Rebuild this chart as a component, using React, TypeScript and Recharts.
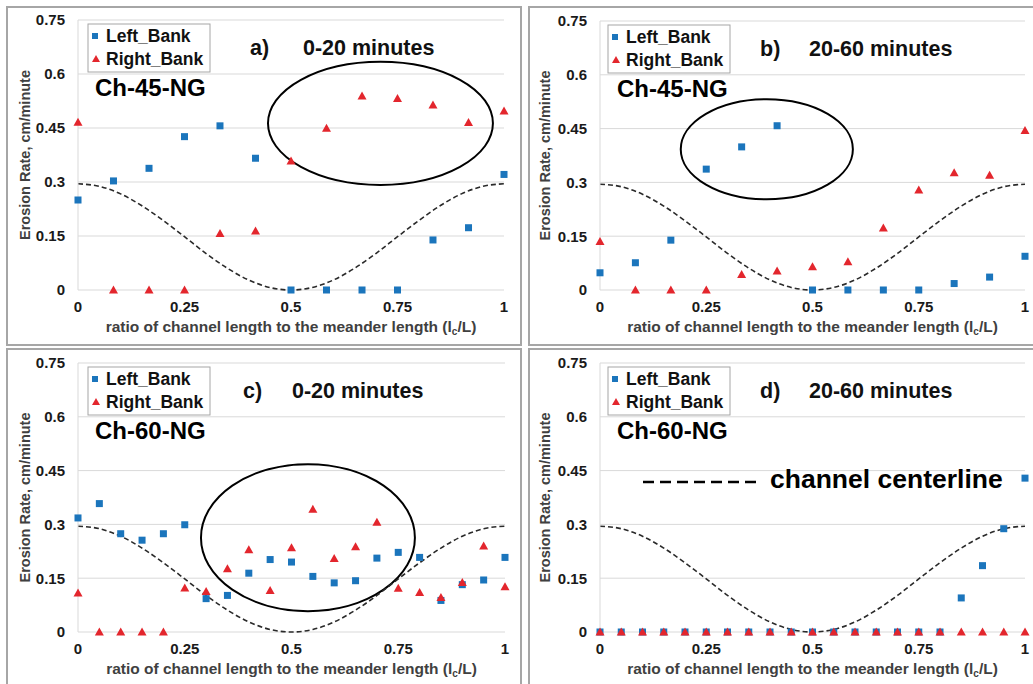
import { ComposedChart, Scatter, Line, XAxis, YAxis, CartesianGrid, ReferenceArea } from 'recharts'

// x positions: 13 stations (1/12 steps) for Ch-45, 21 stations (0.05 steps) for Ch-60
const X_13 = [0, 0.0833, 0.1667, 0.25, 0.3333, 0.4167, 0.5, 0.5833, 0.6667, 0.75, 0.8333, 0.9167, 1]
const X_21 = [0, 0.05, 0.1, 0.15, 0.2, 0.25, 0.3, 0.35, 0.4, 0.45, 0.5, 0.55, 0.6, 0.65, 0.7, 0.75, 0.8, 0.85, 0.9, 0.95, 1]

// a) Ch-45-NG, 0-20 minutes
const A_LEFT = [0.25, 0.303, 0.338, 0.426, 0.456, 0.366, 0, 0, 0, 0, 0.139, 0.173, 0.321]
const A_RIGHT = [0.466, 0, 0, 0, 0.157, 0.164, 0.358, 0.449, 0.539, 0.532, 0.514, 0.465, 0.497]

// b) Ch-45-NG, 20-60 minutes
const B_LEFT = [0.048, 0.076, 0.139, 0.337, 0.399, 0.458, 0, 0, 0, 0, 0.018, 0.036, 0.094]
const B_RIGHT = [0.135, 0, 0, 0, 0.043, 0.053, 0.065, 0.079, 0.173, 0.279, 0.327, 0.32, 0.445]

// c) Ch-60-NG, 0-20 minutes
const C_LEFT = [0.318, 0.358, 0.274, 0.256, 0.274, 0.299, 0.093, 0.102, 0.164, 0.202, 0.195, 0.155, 0.137, 0.143, 0.206, 0.222, 0.208, 0.088, 0.132, 0.145, 0.208]
const C_RIGHT = [0.109, 0, 0, 0, 0, 0.123, 0.113, 0.176, 0.229, 0.116, 0.235, 0.342, 0.205, 0.238, 0.306, 0.122, 0.11, 0.096, 0.138, 0.24, 0.126]

// d) Ch-60-NG, 20-60 minutes
const D_LEFT = [0, 0, 0, 0, 0, 0, 0, 0, 0, 0, 0, 0, 0, 0, 0, 0, 0, 0.095, 0.185, 0.288, 0.429]
const D_RIGHT = [0, 0, 0, 0, 0, 0, 0, 0, 0, 0, 0, 0, 0, 0, 0, 0, 0, 0, 0, 0, 0]

// channel centerline (dashed), read at 0.05 steps
const CENTER_Y = [0.295, 0.288, 0.267, 0.234, 0.193, 0.148, 0.102, 0.061, 0.028, 0.007, 0, 0.007, 0.028, 0.061, 0.102, 0.148, 0.193, 0.234, 0.267, 0.288, 0.295]

const X_TICKS = [0, 0.25, 0.5, 0.75, 1]
const Y_TICKS = [0, 0.15, 0.3, 0.45, 0.6, 0.75]

const BLUE = '#1b75bc'
const RED = '#e3262d'
const GRID = '#d9d9d9'
const FRAME = '#a6a6a6'
const FONT = '"Liberation Sans", Arial, sans-serif'

const toPoints = (xs: number[], ys: number[]) => xs.map((x, i) => ({ x, y: ys[i] }))
const CENTER = toPoints(X_21, CENTER_Y)

const Square = (p: any) => <rect x={p.cx - 3.5} y={p.cy - 3.5} width={7} height={7} fill={BLUE} />
const Triangle = (p: any) => (
  <polygon points={`${p.cx},${p.cy - 4.5} ${p.cx + 4.5},${p.cy + 3.5} ${p.cx - 4.5},${p.cy + 3.5}`} fill={RED} />
)
const EllipseShape = (p: any) => (
  <ellipse cx={p.x + p.width / 2} cy={p.y + p.height / 2} rx={p.width / 2} ry={p.height / 2} fill="none" stroke="#000" strokeWidth={2} />
)

const tickStyle = { fill: '#1a1a1a', fontSize: 15, fontWeight: 'bold', fontFamily: FONT }

interface PanelProps {
  left: number
  top: number
  width: number
  height: number
  plot: { top: number; left: number; right: number; bottom: number }
  xs: number[]
  leftVals: number[]
  rightVals: number[]
  letter: string
  period: string
  channel: string
  titleX: number
  timeX: number
  legendDx: number
  ellipse?: { x1: number; x2: number; y1: number; y2: number }
  centerlineNote?: boolean
}

function Panel(props: PanelProps) {
  const { left, top, width, height, plot, xs, leftVals, rightVals, letter, period, channel, titleX, timeX, legendDx, ellipse, centerlineNote } = props
  const plotW = width - plot.left - plot.right
  const plotH = height - plot.top - plot.bottom
  const plotBottom = plot.top + plotH
  const lgX = plot.left + legendDx
  const lgY = plot.top + 4

  return (
    <div style={{ position: 'absolute', left, top, width, height }}>
      <ComposedChart width={width} height={height} margin={{ top: plot.top, right: plot.right, bottom: 0, left: 0 }}>
        <CartesianGrid vertical={false} stroke={GRID} />
        <XAxis
          dataKey="x"
          type="number"
          domain={[0, 1]}
          ticks={X_TICKS}
          height={plot.bottom}
          axisLine={false}
          tickLine={false}
          tickMargin={5}
          tick={tickStyle}
        />
        <YAxis
          type="number"
          domain={[0, 0.75]}
          ticks={Y_TICKS}
          width={plot.left}
          axisLine={{ stroke: GRID }}
          tickLine={false}
          tickMargin={7}
          tick={tickStyle}
        />
        <Line
          data={CENTER}
          dataKey="y"
          type="monotone"
          dot={false}
          stroke="#2a2a2a"
          strokeWidth={1.6}
          strokeDasharray="5 3"
          isAnimationActive={false}
        />
        <Scatter data={toPoints(xs, leftVals)} dataKey="y" shape={Square} isAnimationActive={false} />
        <Scatter data={toPoints(xs, rightVals)} dataKey="y" shape={Triangle} isAnimationActive={false} />
        {ellipse && (
          <ReferenceArea x1={ellipse.x1} x2={ellipse.x2} y1={ellipse.y1} y2={ellipse.y2} shape={EllipseShape} />
        )}
      </ComposedChart>
      <svg
        width={width}
        height={height}
        style={{ position: 'absolute', left: 0, top: 0, pointerEvents: 'none', fontFamily: FONT, fontWeight: 'bold' }}
      >
        {/* axis titles */}
        <text
          x={25}
          y={plot.top + plotH / 2}
          transform={`rotate(-90 25 ${plot.top + plotH / 2})`}
          textAnchor="middle"
          dominantBaseline="central"
          fontSize={14.5}
          fill="#404040"
        >
          Erosion Rate, cm/minute
        </text>
        <text x={plot.left + plotW / 2} y={plotBottom + 42} textAnchor="middle" fontSize={15.5} fill="#404040">
          ratio of channel length to the meander length (l
          <tspan fontSize={10} dy={3}>c</tspan>
          <tspan dy={-3}>/L)</tspan>
        </text>

        {/* legend */}
        <rect x={lgX} y={lgY} width={122} height={48} fill="#fff" stroke={FRAME} strokeWidth={1} />
        <rect x={lgX + 4} y={lgY + 9} width={6} height={6} fill={BLUE} />
        <polygon
          points={`${lgX + 8},${lgY + 31} ${lgX + 12},${lgY + 38} ${lgX + 4},${lgY + 38}`}
          fill={RED}
        />
        <text x={lgX + 18} y={lgY + 18} fontSize={17.5} fill="#111">Left_Bank</text>
        <text x={lgX + 18} y={lgY + 41} fontSize={17.5} fill="#111">Right_Bank</text>

        {/* panel title */}
        <text x={titleX} y={plot.top + 35} fontSize={21.5} fill="#111">{letter}</text>
        <text x={timeX} y={plot.top + 35} fontSize={21.5} fill="#111">{period}</text>
        <text x={plot.left + 17} y={plot.top + 76} fontSize={24} fill="#000">{channel}</text>

        {centerlineNote && (
          <g>
            <line x1={123} y1={137} x2={238} y2={137} stroke="#000" strokeWidth={2.5} strokeDasharray="11 6" />
            <text x={250} y={143} fontSize={26.5} fill="#000">channel centerline</text>
          </g>
        )}
      </svg>
    </div>
  )
}

export default function App() {
  return (
    <div style={{ position: 'absolute', left: 0, top: 0, width: 1033, height: 684, background: '#fff', overflow: 'hidden' }}>
      <Panel
        left={0}
        top={0}
        width={521}
        height={345}
        plot={{ top: 20, left: 78, right: 17, bottom: 55 }}
        xs={X_13}
        leftVals={A_LEFT}
        rightVals={A_RIGHT}
        letter="a)"
        period="0-20 minutes"
        channel="Ch-45-NG"
        titleX={250}
        timeX={303}
        legendDx={10}
        ellipse={{ x1: 0.446, x2: 0.974, y1: 0.292, y2: 0.634 }}
      />
      <Panel
        left={520}
        top={0}
        width={513}
        height={345}
        plot={{ top: 21, left: 80, right: 8, bottom: 55 }}
        xs={X_13}
        leftVals={B_LEFT}
        rightVals={B_RIGHT}
        letter="b)"
        period="20-60 minutes"
        channel="Ch-45-NG"
        titleX={240}
        timeX={289}
        legendDx={8}
        ellipse={{ x1: 0.19, x2: 0.595, y1: 0.253, y2: 0.532 }}
      />
      <Panel
        left={0}
        top={345}
        width={521}
        height={339}
        plot={{ top: 18, left: 78, right: 16, bottom: 52 }}
        xs={X_21}
        leftVals={C_LEFT}
        rightVals={C_RIGHT}
        letter="c)"
        period="0-20 minutes"
        channel="Ch-60-NG"
        titleX={243}
        timeX={292}
        legendDx={10}
        ellipse={{ x1: 0.288, x2: 0.789, y1: 0.058, y2: 0.468 }}
      />
      <Panel
        left={520}
        top={345}
        width={513}
        height={339}
        plot={{ top: 18, left: 80, right: 8, bottom: 52 }}
        xs={X_21}
        leftVals={D_LEFT}
        rightVals={D_RIGHT}
        letter="d)"
        period="20-60 minutes"
        channel="Ch-60-NG"
        titleX={240}
        timeX={289}
        legendDx={8}
        centerlineNote
      />

      {/* panel frames */}
      <div style={{ position: 'absolute', left: 6, top: 6, width: 516, height: 340, border: `2px solid ${FRAME}`, boxSizing: 'border-box' }} />
      <div style={{ position: 'absolute', left: 528, top: 6, width: 520, height: 340, border: `2px solid ${FRAME}`, boxSizing: 'border-box' }} />
      <div style={{ position: 'absolute', left: 6, top: 348, width: 516, height: 400, border: `2px solid ${FRAME}`, boxSizing: 'border-box' }} />
      <div style={{ position: 'absolute', left: 528, top: 348, width: 520, height: 400, border: `2px solid ${FRAME}`, boxSizing: 'border-box' }} />
    </div>
  )
}
